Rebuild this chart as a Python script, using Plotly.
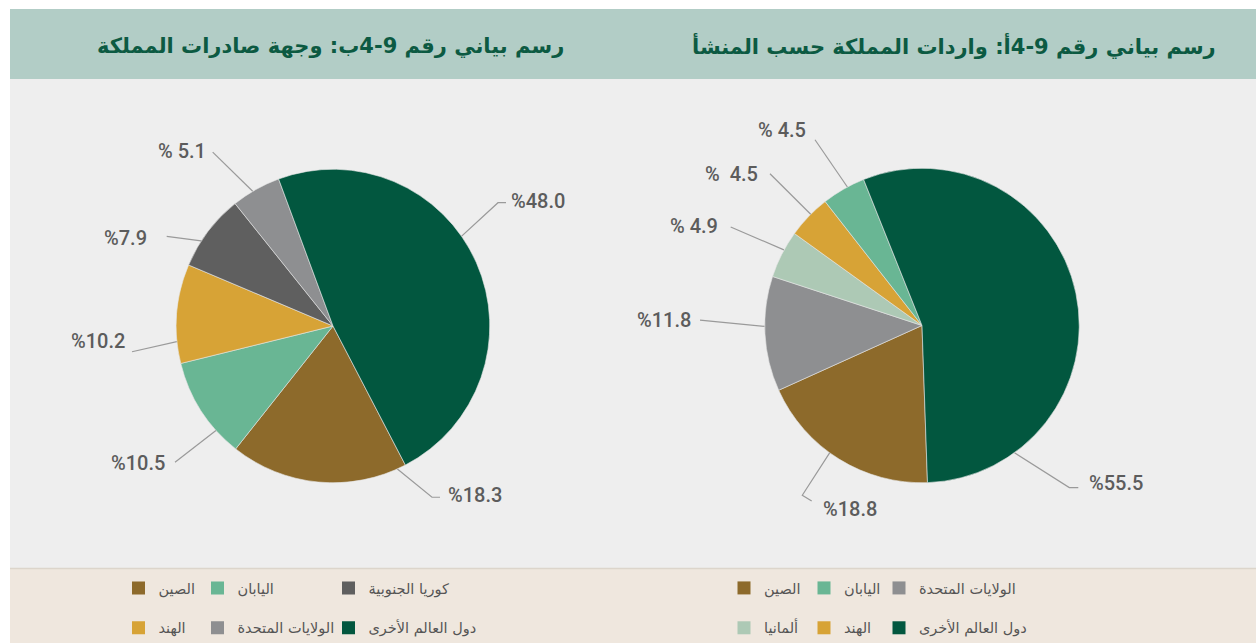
import math
import plotly.graph_objects as go

W, H = 1256, 644

# ---- data -------------------------------------------------------------
# Left panel: destination of the Kingdom's exports (% share)
exp_labels = ["الصين", "اليابان", "الهند", "كوريا الجنوبية", "الولايات المتحدة", "دول العالم الأخرى"]
exp_values = [18.3, 10.5, 10.2, 7.9, 5.1, 48.0]

# Right panel: the Kingdom's imports by origin (% share)
imp_labels = ["الصين", "الولايات المتحدة", "ألمانيا", "الهند", "اليابان", "دول العالم الأخرى"]
imp_values = [18.8, 11.8, 4.9, 4.5, 4.5, 55.5]

exp_title = "رسم بياني رقم 9-4ب: وجهة صادرات المملكة"
imp_title = "رسم بياني رقم 9-4أ: واردات المملكة حسب المنشأ"

# legend columns (top row, bottom row), left to right
exp_legend_cols = [["الصين", "الهند"], ["اليابان", "الولايات المتحدة"], ["كوريا الجنوبية", "دول العالم الأخرى"]]
imp_legend_cols = [["الصين", "ألمانيا"], ["اليابان", "الهند"], ["الولايات المتحدة", "دول العالم الأخرى"]]

# ---- styling ----------------------------------------------------------
COLORS = {
    "الصين": "#8d6a2b",
    "اليابان": "#69b694",
    "الهند": "#d7a336",
    "كوريا الجنوبية": "#5f5f5f",
    "الولايات المتحدة": "#8e8f91",
    "دول العالم الأخرى": "#02573f",
    "ألمانيا": "#adc9b5",
}
HEADER_BG = "#b2cdc6"
PLOT_BG = "#eeeeee"
LEGEND_BG = "#efe7de"
TITLE_COLOR = "#0c5a42"
LABEL_COLOR = "#5c5c5c"
LEADER_COLOR = "#9a9a9a"
LABEL_FONT = "Roboto, sans-serif"
AR_FONT = "DejaVu Sans, Noto Sans, sans-serif"

# pie geometry in pixels: centre x, centre y, radius, rotation
EXP_PIE = dict(cx=333, cy=326.5, r=157, rot=152.5)
IMP_PIE = dict(cx=922, cy=326, r=157.5, rot=178)

# label placement per slice:
# (position along slice 0..1, leader end dx,dy, elbow tail dx,dy, text anchor, text dx,dy, spaces after %)
EXP_LBL = [
    (0.05, (99, 171.5), (8, 0), "left", (113, 169.5), 0),
    (0.26, (-158, 136.5), (0, 0), "right", (-166, 137.5), 0),
    (0.22, (-201, 25.8), (0, 0), "right", (-206, 15.5), 0),
    (0.35, (-166.3, -89.8), (0, 0), "right", (-183.7, -88.2), 0),
    (0.43, (-120.3, -174.2), (0, 0), "right", (-125.3, -175.5), 1),
    (0.436, (165, -123.5), (8, 0), "left", (176, -125.5), 0),
]
IMP_LBL = [
    (0.56, (-119.7, 170), (9.4, 5.7), "left", (-101.3, 183.3), 0),
    (0.565, (-222, -5.3), (0, 0), "right", (-229.3, -5.3), 0),
    (0.6, (-191.3, -98.7), (0, 0), "right", (-202, -99.3), 1),
    (0.57, (-152, -152), (0, 0), "right", (-162, -152), 2),
    (0.6, (-107, -186), (0, 0), "right", (-114.3, -196), 1),
    (0.83, (147.3, 162.3), (9, 0), "left", (164.7, 157.3), 0),
]


def px(x):
    return x / W


def py(y):
    return 1 - y / H


fig = go.Figure()
shapes = []
annotations = []

# background bands
shapes += [
    dict(type="rect", xref="paper", yref="paper", x0=px(10), x1=1, y0=py(79), y1=py(9),
         fillcolor=HEADER_BG, line_width=0, layer="below"),
    dict(type="rect", xref="paper", yref="paper", x0=px(10), x1=1, y0=py(569), y1=py(79),
         fillcolor=PLOT_BG, line_width=0, layer="below"),
    dict(type="rect", xref="paper", yref="paper", x0=px(10), x1=1, y0=0, y1=py(569),
         fillcolor=LEGEND_BG, line_width=0, layer="below"),
    dict(type="line", xref="paper", yref="paper", x0=px(10), x1=1, y0=py(569.5), y1=py(569.5),
         line=dict(color="#dcd5cb", width=1.5), layer="below"),
]


def add_pie(labels, values, geo, placement, name):
    cx, cy, r = geo["cx"], geo["cy"], geo["r"]
    fig.add_trace(go.Pie(
        labels=labels, values=values, name=name,
        sort=False, direction="clockwise", rotation=geo["rot"],
        marker=dict(colors=[COLORS[l] for l in labels], line=dict(color="#e6e6e6", width=0.6)),
        textinfo="none", hoverinfo="label+percent", showlegend=False,
        domain=dict(x=[px(cx - r), px(cx + r)], y=[py(cy + r), py(cy - r)]),
    ))
    total = sum(values)
    start = geo["rot"]
    for v, (frac, end, tail, side, tpos, gap) in zip(values, placement):
        span = 360 * v / total
        ang = math.radians(start + frac * span)
        start += span
        x0, y0 = cx + r * math.sin(ang), cy - r * math.cos(ang)
        x1, y1 = cx + end[0], cy + end[1]
        x2, y2 = x1 + tail[0], y1 + tail[1]
        path = f"M {px(x0)} {py(y0)} L {px(x1)} {py(y1)}"
        if tail != (0, 0):
            path += f" L {px(x2)} {py(y2)}"
        shapes.append(dict(type="path", xref="paper", yref="paper", path=path,
                           line=dict(color=LEADER_COLOR, width=1.2)))
        annotations.append(dict(
            x=px(cx + tpos[0]), y=py(cy + tpos[1]), xref="paper", yref="paper",
            text="%" + " " * gap + f"{v:.1f}", showarrow=False,
            xanchor=side, yanchor="middle",
            font=dict(family=LABEL_FONT, size=20, weight=500, color=LABEL_COLOR),
        ))


add_pie(exp_labels, exp_values, EXP_PIE, EXP_LBL, "صادرات")
add_pie(imp_labels, imp_values, IMP_PIE, IMP_LBL, "واردات")

# panel titles
for txt, xr in [(exp_title, 566), (imp_title, 1218)]:
    annotations.append(dict(
        x=px(xr), y=py(46), xref="paper", yref="paper", text=f"<b>{txt}</b>",
        showarrow=False, xanchor="right", yanchor="middle",
        font=dict(family=AR_FONT, size=21, color=TITLE_COLOR),
    ))

# legends: one vertical legend per column
legend_layouts = {}
col_x = [(exp_legend_cols, [138.5, 217.5, 348.5]), (imp_legend_cols, [744, 824, 899])]
k = 0
for cols, xs in col_x:
    for col, xc in zip(cols, xs):
        k += 1
        key = "legend" if k == 1 else f"legend{k}"
        for lab in col:
            fig.add_trace(go.Scatter(
                x=[None], y=[None], mode="markers", name=lab,
                marker=dict(symbol="square", size=13, color=COLORS[lab]),
                legend=key, legendgroup=f"{key}-{lab}", showlegend=True, hoverinfo="skip",
            ))
        legend_layouts[key] = dict(
            x=px(xc - 20), y=py(573), xanchor="left", yanchor="top",
            orientation="v", bgcolor="rgba(0,0,0,0)", borderwidth=0,
            tracegroupgap=18, itemclick=False, itemdoubleclick=False,
            font=dict(family=AR_FONT, size=14.5, color="#555555"),
        )

fig.update_layout(
    width=W, height=H,
    margin=dict(l=0, r=0, t=0, b=0),
    paper_bgcolor="white", plot_bgcolor="rgba(0,0,0,0)",
    xaxis=dict(visible=False), yaxis=dict(visible=False),
    shapes=shapes, annotations=annotations,
    **legend_layouts,
)

fig.write_html("out.html")
